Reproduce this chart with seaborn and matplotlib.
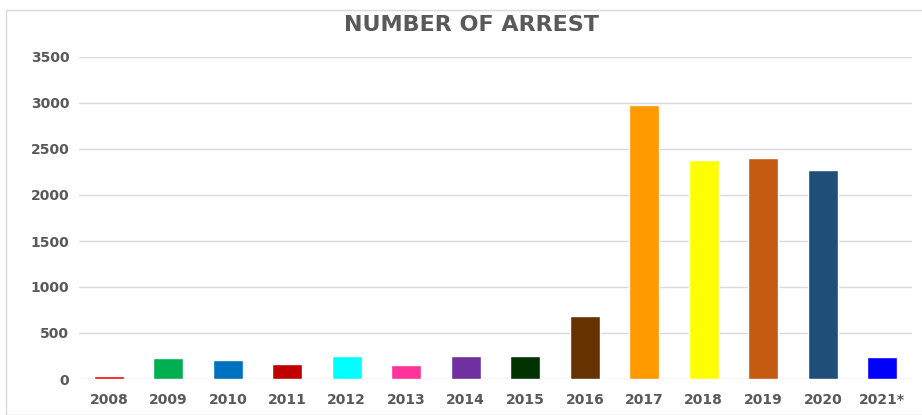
import matplotlib
matplotlib.use("Agg")
import matplotlib.pyplot as plt
import seaborn as sns
import pandas as pd
from matplotlib.patches import Rectangle

years = ["2008", "2009", "2010", "2011", "2012", "2013", "2014", "2015",
         "2016", "2017", "2018", "2019", "2020", "2021*"]
arrests = [30, 225, 205, 165, 250, 155, 255, 255, 685, 2975, 2385, 2405, 2275, 235]
colors = ["#ff0000", "#00b050", "#0070c0", "#c00000", "#00ffff", "#ff3399",
          "#7030a0", "#003300", "#663300", "#ff9900", "#ffff00", "#c55a11",
          "#1f4e79", "#0000ff"]
yticks = [0, 500, 1000, 1500, 2000, 2500, 3000, 3500]

df = pd.DataFrame({"year": years, "arrests": arrests})

sns.set_theme(style="white")
plt.rcParams["font.family"] = ["DejaVu Sans"]

fig = plt.figure(figsize=(9.22, 4.15), dpi=100)
ax = fig.add_axes([79/922, 36/415, (912-79)/922, (379-57)/415])

sns.barplot(data=df, x="year", y="arrests", hue="year", palette=colors,
            width=0.5, legend=False, ax=ax, saturation=1)

ax.set_xlim(-0.5, 13.5)
ax.set_ylim(0, 3500)
ax.set_yticks(yticks)
ax.set_yticklabels([str(v) for v in yticks])
ax.yaxis.grid(True, color="#d9d9d9", linewidth=1)
ax.set_axisbelow(True)
for s in ax.spines.values():
    s.set_visible(False)
ax.tick_params(axis="both", length=0, labelsize=10, labelcolor="#595959")
ax.tick_params(axis="y", pad=7)
ax.tick_params(axis="x", pad=10)
for lbl in ax.get_xticklabels() + ax.get_yticklabels():
    lbl.set_fontweight("bold")
ax.set_xlabel("")
ax.set_ylabel("")

fig.text(471/922, 1 - 25/415, "NUMBER OF ARREST", ha="center", va="center",
         fontsize=16, fontweight="bold", color="#595959")

fig.patches.append(Rectangle((6/922, 0), 1, 1 - 10/415, transform=fig.transFigure,
                             fill=False, edgecolor="#d9d9d9", linewidth=1))

fig.savefig("out.png", dpi=100)
